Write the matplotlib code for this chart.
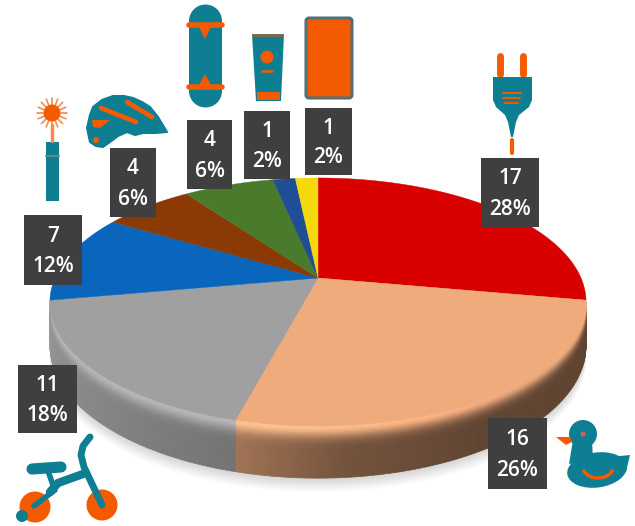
import numpy as np
import matplotlib
matplotlib.use('Agg')
import matplotlib.pyplot as plt
from matplotlib.collections import PolyCollection
from matplotlib.patches import Polygon, Rectangle, Circle, Ellipse, FancyBboxPatch

values = [17, 16, 11, 7, 4, 4, 1, 1]
counts = ['17', '16', '11', '7', '4', '4', '1', '1']
percents = ['28%', '26%', '18%', '12%', '6%', '6%', '2%', '2%']
colors = ['#d90000', '#f0ab7d', '#a0a0a0', '#0a66bd', '#8b3a05', '#4a7a2c', '#1f4e96', '#f5d90a']

# label boxes, left/right/top/bottom in pixels
boxes = [(481, 539, 158, 227), (488, 547, 418, 489), (18, 77, 365, 433), (24, 82, 215, 285),
         (110, 156, 148, 217), (187, 232, 120, 189), (244, 290, 111, 179), (305, 352, 108, 175)]

TEAL = '#0e7f93'
ORANGE = '#f45a00'
X0, Y0, A, B, K = 318, 278, 263, 119.4, 0.1935


def project(deg):
    # angle clockwise from 12 o'clock -> pixel on the tilted disc
    t = np.radians(deg)
    u, v = np.sin(t), np.cos(t)
    w = 1 + K * v
    return X0 + A * u / w, Y0 - B * v / w, w


fig = plt.figure(figsize=(6.35, 5.26), dpi=100)
ax = fig.add_axes([0, 0, 1, 1])
ax.set_xlim(0, 635)
ax.set_ylim(526, 0)
ax.axis('off')
plt.rcParams['font.family'] = ['Open Sans', 'DejaVu Sans']

edges = np.cumsum([0] + values) / sum(values) * 360

# soft shadow under the disc
ang = np.linspace(0, 360, 361)
sx, sy, sw = project(ang)
for grow in range(1, 15):
    ax.add_patch(Polygon(np.c_[sx, sy + 42 / sw + grow], fc='k', ec='none', alpha=0.012, zorder=1))

# side wall, only the two front slices show
shades = {1: ([100, 150, 175, 195], [.40, .40, .48, .68]),
          2: ([195, 230, 260], [.72, .85, .95])}
quads, quad_cols = [], []
fracs = np.linspace(0, 1, 25)
for i in shades:
    base = np.array(matplotlib.colors.to_rgb(colors[i]))
    for a0 in np.arange(edges[i], edges[i + 1], 1.0):
        a1 = min(a0 + 1.0, edges[i + 1])
        x0, y0, w0 = project(a0)
        x1, y1, w1 = project(a1)
        wall = base * np.interp(a0, *shades[i])
        # rim highlight gets stronger towards the lit side
        glow = np.clip((a0 - 140) / 50, 0, 1)
        light = np.minimum(base * (1 + 0.14 * glow), 1)
        d0, d1 = 42 / w0, 42 / w1
        for f0, f1 in zip(fracs[:-1], fracs[1:]):
            mix = np.exp(-(f0 / 0.2) ** 2)
            quads.append([(x0, y0 + d0 * f0), (x1, y1 + d1 * f0), (x1, y1 + d1 * f1), (x0, y0 + d0 * f1)])
            quad_cols.append(wall + (light - wall) * mix)
ax.add_collection(PolyCollection(quads, facecolors=quad_cols, edgecolors=quad_cols, linewidths=0.5, zorder=2))

# top face
for i in range(len(values)):
    a = np.linspace(edges[i], edges[i + 1], 120)
    px, py, _ = project(a)
    ax.add_patch(Polygon(np.r_[[[X0, Y0]], np.c_[px, py]], fc=colors[i], ec=colors[i], lw=0.3, zorder=3))

# labels
for (l, r, t, b), c, p in zip(boxes, counts, percents):
    ax.add_patch(Rectangle((l, t), r - l, b - t, fc='#3f3f3f', ec='none', zorder=5))
    ax.text((l + r) / 2, t + (b - t) * 0.30, c, color='white', fontsize=15, fontweight='semibold',
            ha='center', va='center', zorder=6)
    ax.text((l + r) / 2, t + (b - t) * 0.74, p, color='white', fontsize=15, fontweight='semibold',
            ha='center', va='center', zorder=6)


def line(xs, ys, c=TEAL, lw=3.0, z=7):
    ax.plot(xs, ys, color=c, lw=lw, solid_capstyle='round', zorder=z)


# plug
line([500, 500], [56, 74], ORANGE, 5.0)
line([523, 523], [56, 74], ORANGE, 5.0)
ax.add_patch(Polygon([(493, 77), (532, 77), (532, 100), (529, 107), (519, 115), (516, 122), (513, 137), (511, 137),
                      (508, 122), (505, 115), (496, 107), (493, 100)], fc=TEAL, ec='none', zorder=7))
line([512, 512], [140, 153], ORANGE, 3.0)
for yy, x0, x1 in [(93, 503, 521), (98, 503, 520), (103, 505, 518)]:
    line([x0, x1], [yy, yy], ORANGE, 1.4, 8)

# phone
ax.add_patch(FancyBboxPatch((306, 18), 46, 80, boxstyle='round,pad=0,rounding_size=3', fc=ORANGE, ec='#50707a', lw=2.2, zorder=7))
line([330, 330], [22, 94], '#ee5a08', 0.8, 8)

# sunscreen tube
ax.add_patch(Polygon([(252, 34), (284, 34), (281, 101), (256, 101)], fc=TEAL, ec='none', zorder=7))
ax.add_patch(Rectangle((257, 92), 23, 8, fc=ORANGE, ec='none', zorder=8))
ax.add_patch(Rectangle((252, 34), 32, 3, fc=ORANGE, ec='none', alpha=0.45, zorder=8))
ax.add_patch(Circle((267, 57), 6.5, fc=ORANGE, ec='none', zorder=8))
line([262, 272], [71, 71], ORANGE, 1.8, 8)

# skateboard
ax.add_patch(Rectangle((189, 21), 33, 70, fc=TEAL, ec='none', zorder=7))
ax.add_patch(Ellipse((205.5, 21), 33, 33, fc=TEAL, ec='none', zorder=7))
ax.add_patch(Ellipse((205.5, 91), 33, 33, fc=TEAL, ec='none', zorder=7))
for yy, tip in [(25, 39), (87, 74)]:
    line([189, 222], [yy, yy], ORANGE, 4.0, 8)
    ax.add_patch(Polygon([(198, yy), (212, yy), (205, tip)], fc=ORANGE, ec='none', zorder=8))

# helmet
ax.add_patch(Polygon([(87, 128), (90, 115), (93, 107), (102, 100), (113, 96), (124, 96), (133, 98), (142, 102),
                      (150, 107), (158, 117), (167, 132), (155, 133), (143, 133), (135, 135), (127, 132), (118, 136),
                      (110, 142), (103, 147), (96, 146), (90, 142)], fc=TEAL, ec=TEAL, lw=1.5, joinstyle='round', zorder=7))
line([101, 136], [108, 122], ORANGE, 3.4, 8)
line([127, 152], [102, 117], ORANGE, 3.4, 8)
ax.add_patch(Polygon([(92, 120), (110, 120), (100, 128), (93, 127)], fc=ORANGE, ec='none', zorder=8))
ax.add_patch(Circle((96, 140), 3, fc=ORANGE, ec='none', zorder=8))

# sparkler
ax.add_patch(Rectangle((46, 142), 13, 59, fc=TEAL, ec='none', zorder=7))
line([46, 59], [156, 156], '#5a8f80', 1.5, 8)
line([52, 52], [125, 141], '#f58a50', 2.5, 7)
ax.add_patch(Circle((52, 113), 8.5, fc=ORANGE, ec='none', zorder=8))
for t in np.radians(np.arange(0, 360, 22.5)):
    line([52, 52 + 15 * np.cos(t)], [113, 113 + 15 * np.sin(t)], '#f58a50', 1.2, 7)

# bike
ax.add_patch(Circle((35, 507), 15.5, fc=ORANGE, ec='none', zorder=7))
ax.add_patch(Circle((102, 505), 15.5, fc=ORANGE, ec='none', zorder=7))
line([102, 84, 81, 83, 90], [505, 467, 455, 446, 437], lw=5.0, z=8)
line([83, 58, 50], [474, 483, 492], lw=6.0, z=8)
line([32, 61], [469, 467], lw=8.0, z=8)
line([47, 54], [468, 488], lw=4.0, z=8)
line([55, 34], [490, 506], lw=4.0, z=8)
ax.add_patch(Circle((22, 516), 6, fc=TEAL, ec='none', zorder=8))

# duck
ax.add_patch(Ellipse((597, 470), 60, 35, angle=-8, fc=TEAL, ec='none', zorder=7))
ax.add_patch(Circle((583, 434), 14, fc=TEAL, ec='none', zorder=7))
ax.add_patch(Polygon([(573, 440), (592, 440), (593, 460), (569, 464)], fc=TEAL, ec='none', zorder=7))
ax.add_patch(Polygon([(600, 458), (630, 455), (626, 472), (605, 478)], fc=TEAL, ec='none', zorder=7))
ax.add_patch(Polygon([(556, 437), (570, 437), (572, 442), (566, 445)], fc=ORANGE, ec='none', zorder=8))
ax.add_patch(Circle((583, 434), 2.5, fc='#d8604a', ec='none', zorder=8))
a = np.linspace(200, 340, 30)
line(598 + 15 * np.cos(np.radians(a)), 467 - 11 * np.sin(np.radians(a)), ORANGE, 2.5, 8)

fig.savefig('out.png', dpi=100, facecolor='white')
